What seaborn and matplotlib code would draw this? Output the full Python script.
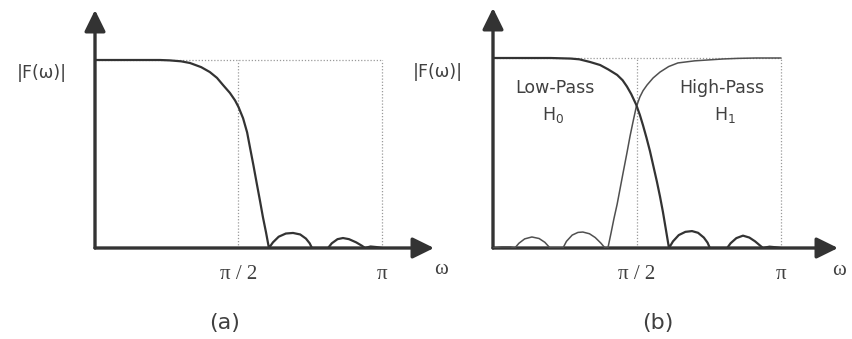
import numpy as np
import pandas as pd
import matplotlib
matplotlib.use("Agg")
import matplotlib.pyplot as plt
import seaborn as sns

# ---------------- data (omega in units of pi) ----------------
# panel (a): single low-pass response
omega_a = [0.00, 0.10, 0.20, 0.226, 0.26, 0.30, 0.331, 0.37, 0.40, 0.425, 0.446,
           0.47, 0.488, 0.50, 0.516, 0.53, 0.540, 0.552, 0.564, 0.575, 0.585,
           0.596, 0.606,
           0.62, 0.64, 0.665, 0.69, 0.715, 0.735, 0.748, 0.756,
           0.785, 0.812, 0.825, 0.845, 0.864, 0.885, 0.91, 0.93, 0.941,
           0.96, 0.98, 1.00]
mag_a = [1.00, 1.00, 1.00, 1.00, 0.998, 0.993, 0.984, 0.962, 0.936, 0.905, 0.867,
         0.825, 0.785, 0.75, 0.69, 0.615, 0.535, 0.44, 0.34, 0.25, 0.165,
         0.082, 0.0,
         0.03, 0.06, 0.077, 0.08, 0.072, 0.05, 0.025, 0.0,
         0.0, 0.0, 0.025, 0.047, 0.053, 0.047, 0.03, 0.012, 0.0,
         0.008, 0.005, 0.0]

# panel (b): low-pass H0
omega_h0 = [0.00, 0.10, 0.20, 0.27, 0.30, 0.337, 0.372, 0.40, 0.431, 0.45,
            0.465, 0.48, 0.497, 0.51, 0.521, 0.533, 0.545, 0.557, 0.569, 0.58,
            0.59, 0.60, 0.611,
            0.625, 0.645, 0.668, 0.691, 0.712, 0.732, 0.745, 0.753,
            0.783, 0.813, 0.825, 0.845, 0.868, 0.89, 0.91, 0.928, 0.9375,
            0.96, 0.98, 1.00]
mag_h0 = [1.00, 1.00, 1.00, 0.997, 0.993, 0.979, 0.963, 0.94, 0.911, 0.883,
          0.85, 0.81, 0.755, 0.70, 0.645, 0.58, 0.51, 0.43, 0.35, 0.27,
          0.19, 0.10, 0.0,
          0.035, 0.068, 0.085, 0.089, 0.08, 0.055, 0.028, 0.0,
          0.0, 0.0, 0.025, 0.052, 0.065, 0.055, 0.035, 0.012, 0.0,
          0.007, 0.004, 0.0]

# panel (b): high-pass H1
omega_h1 = [0.00, 0.03, 0.06, 0.076, 0.09, 0.11, 0.135, 0.16, 0.18, 0.198,
            0.22, 0.243, 0.255, 0.275, 0.295, 0.312, 0.335, 0.355, 0.375, 0.389,
            0.399, 0.41, 0.42, 0.431, 0.441, 0.451, 0.465, 0.476, 0.487, 0.497,
            0.51, 0.521, 0.535, 0.556, 0.58, 0.61, 0.642, 0.70, 0.75,
            0.80, 0.85, 0.913, 1.00]
mag_h1 = [0.0, 0.006, 0.006, 0.0, 0.025, 0.048, 0.058, 0.05, 0.03, 0.0,
          0.0, 0.0, 0.035, 0.068, 0.082, 0.084, 0.075, 0.055, 0.025, 0.0,
          0.0, 0.08, 0.155, 0.23, 0.31, 0.39, 0.50, 0.59, 0.67, 0.74,
          0.795, 0.828, 0.858, 0.895, 0.926, 0.955, 0.974, 0.985, 0.99,
          0.995, 0.998, 1.0, 1.0]

tick_pos = [0.5, 1.0]
tick_labels = ["\u03c0 / 2", "\u03c0"]
ylabel_text = "|F(\u03c9)|"
xlabel_text = "\u03c9"
panel_titles = ["(a)", "(b)"]
band_labels = ["Low-Pass", "High-Pass"]
band_subs = ["H$_0$", "H$_1$"]

# ---------------- figure ----------------
sns.set_style("white")
plt.rcParams['font.family'] = ['DejaVu Sans']

W, H = 853, 339
fig = plt.figure(figsize=(W / 100, H / 100), dpi=100)

TXT = "#404040"
AX = "#333333"
DOT = "#9a9a9a"
SERIF = ['Liberation Serif', 'DejaVu Serif']


def make_axes(px_left, px_pi, px_right, px_axis, px_one, px_top):
    sx = px_pi - px_left
    sy = px_axis - px_one
    ax = fig.add_axes([px_left / W, (H - px_axis) / H,
                       (px_right - px_left) / W, (px_axis - px_top) / H])
    ax.set_xlim(0, (px_right - px_left) / sx)
    ax.set_ylim(0, (px_axis - px_top) / sy)
    for s in ax.spines.values():
        s.set_visible(False)
    ax.set_yticks([])
    ax.set_xticks(tick_pos)
    ax.set_xticklabels(tick_labels, family=SERIF, fontsize=15, color=TXT)
    ax.tick_params(axis='x', length=0, pad=12)
    arrow = dict(arrowstyle='-|>,head_length=0.65,head_width=0.32',
                 color=AX, lw=2.4, shrinkA=0, shrinkB=0, mutation_scale=20)
    ax.annotate("", xy=(1, 0), xytext=(0, 0), xycoords='axes fraction',
                textcoords='axes fraction', arrowprops=arrow, annotation_clip=False)
    ax.annotate("", xy=(0, 1), xytext=(0, 0), xycoords='axes fraction',
                textcoords='axes fraction', arrowprops=arrow, annotation_clip=False)
    # dotted guide box
    ax.plot([0, 1], [1, 1], ls=(0, (1, 1.5)), color=DOT, lw=0.9, zorder=1)
    ax.plot([0.5, 0.5], [0, 1], ls=(0, (1, 1.5)), color=DOT, lw=0.9, zorder=1)
    ax.plot([1, 1], [0, 1], ls=(0, (1, 1.5)), color=DOT, lw=0.9, zorder=1)
    return ax


# ---- panel (a)
ax_a = make_axes(95, 382, 434, 248, 60, 10)
df_a = pd.DataFrame({"omega": omega_a, "mag": mag_a})
sns.lineplot(data=df_a, x="omega", y="mag", ax=ax_a, color=AX, lw=1.6,
             sort=False, estimator=None, zorder=3)
ax_a.set_xlabel("")
ax_a.set_ylabel("")
ax_a.text(-0.185, 0.931, ylabel_text, ha='center', va='center', fontsize=12.5,
          color=TXT, clip_on=False)
ax_a.text(1.206, -0.112, xlabel_text, ha='center', va='center', fontsize=15,
          color=TXT, family=SERIF, clip_on=False)
ax_a.text(0.453, -0.399, panel_titles[0], ha='center', va='center', fontsize=16,
          color=TXT, clip_on=False)

# ---- panel (b)
ax_b = make_axes(493, 781, 838, 248, 58, 8)
df_h0 = pd.DataFrame({"omega": omega_h0, "mag": mag_h0})
df_h1 = pd.DataFrame({"omega": omega_h1, "mag": mag_h1})
sns.lineplot(data=df_h1, x="omega", y="mag", ax=ax_b, color="#505050", lw=1.1,
             sort=False, estimator=None, zorder=3)
sns.lineplot(data=df_h0, x="omega", y="mag", ax=ax_b, color=AX, lw=1.6,
             sort=False, estimator=None, zorder=4)
ax_b.set_xlabel("")
ax_b.set_ylabel("")
ax_b.text(-0.191, 0.926, ylabel_text, ha='center', va='center', fontsize=12.5,
          color=TXT, clip_on=False)
ax_b.text(1.201, -0.116, xlabel_text, ha='center', va='center', fontsize=15,
          color=TXT, family=SERIF, clip_on=False)
ax_b.text(0.573, -0.395, panel_titles[1], ha='center', va='center', fontsize=16,
          color=TXT, clip_on=False)
ax_b.text(0.215, 0.842, band_labels[0], ha='center', va='center', fontsize=12.5,
          color=TXT)
ax_b.text(0.208, 0.70, band_subs[0], ha='center', va='center', fontsize=12.5,
          color=TXT)
ax_b.text(0.795, 0.842, band_labels[1], ha='center', va='center', fontsize=12.5,
          color=TXT)
ax_b.text(0.806, 0.70, band_subs[1], ha='center', va='center', fontsize=12.5,
          color=TXT)

fig.savefig("out.png", dpi=100)
